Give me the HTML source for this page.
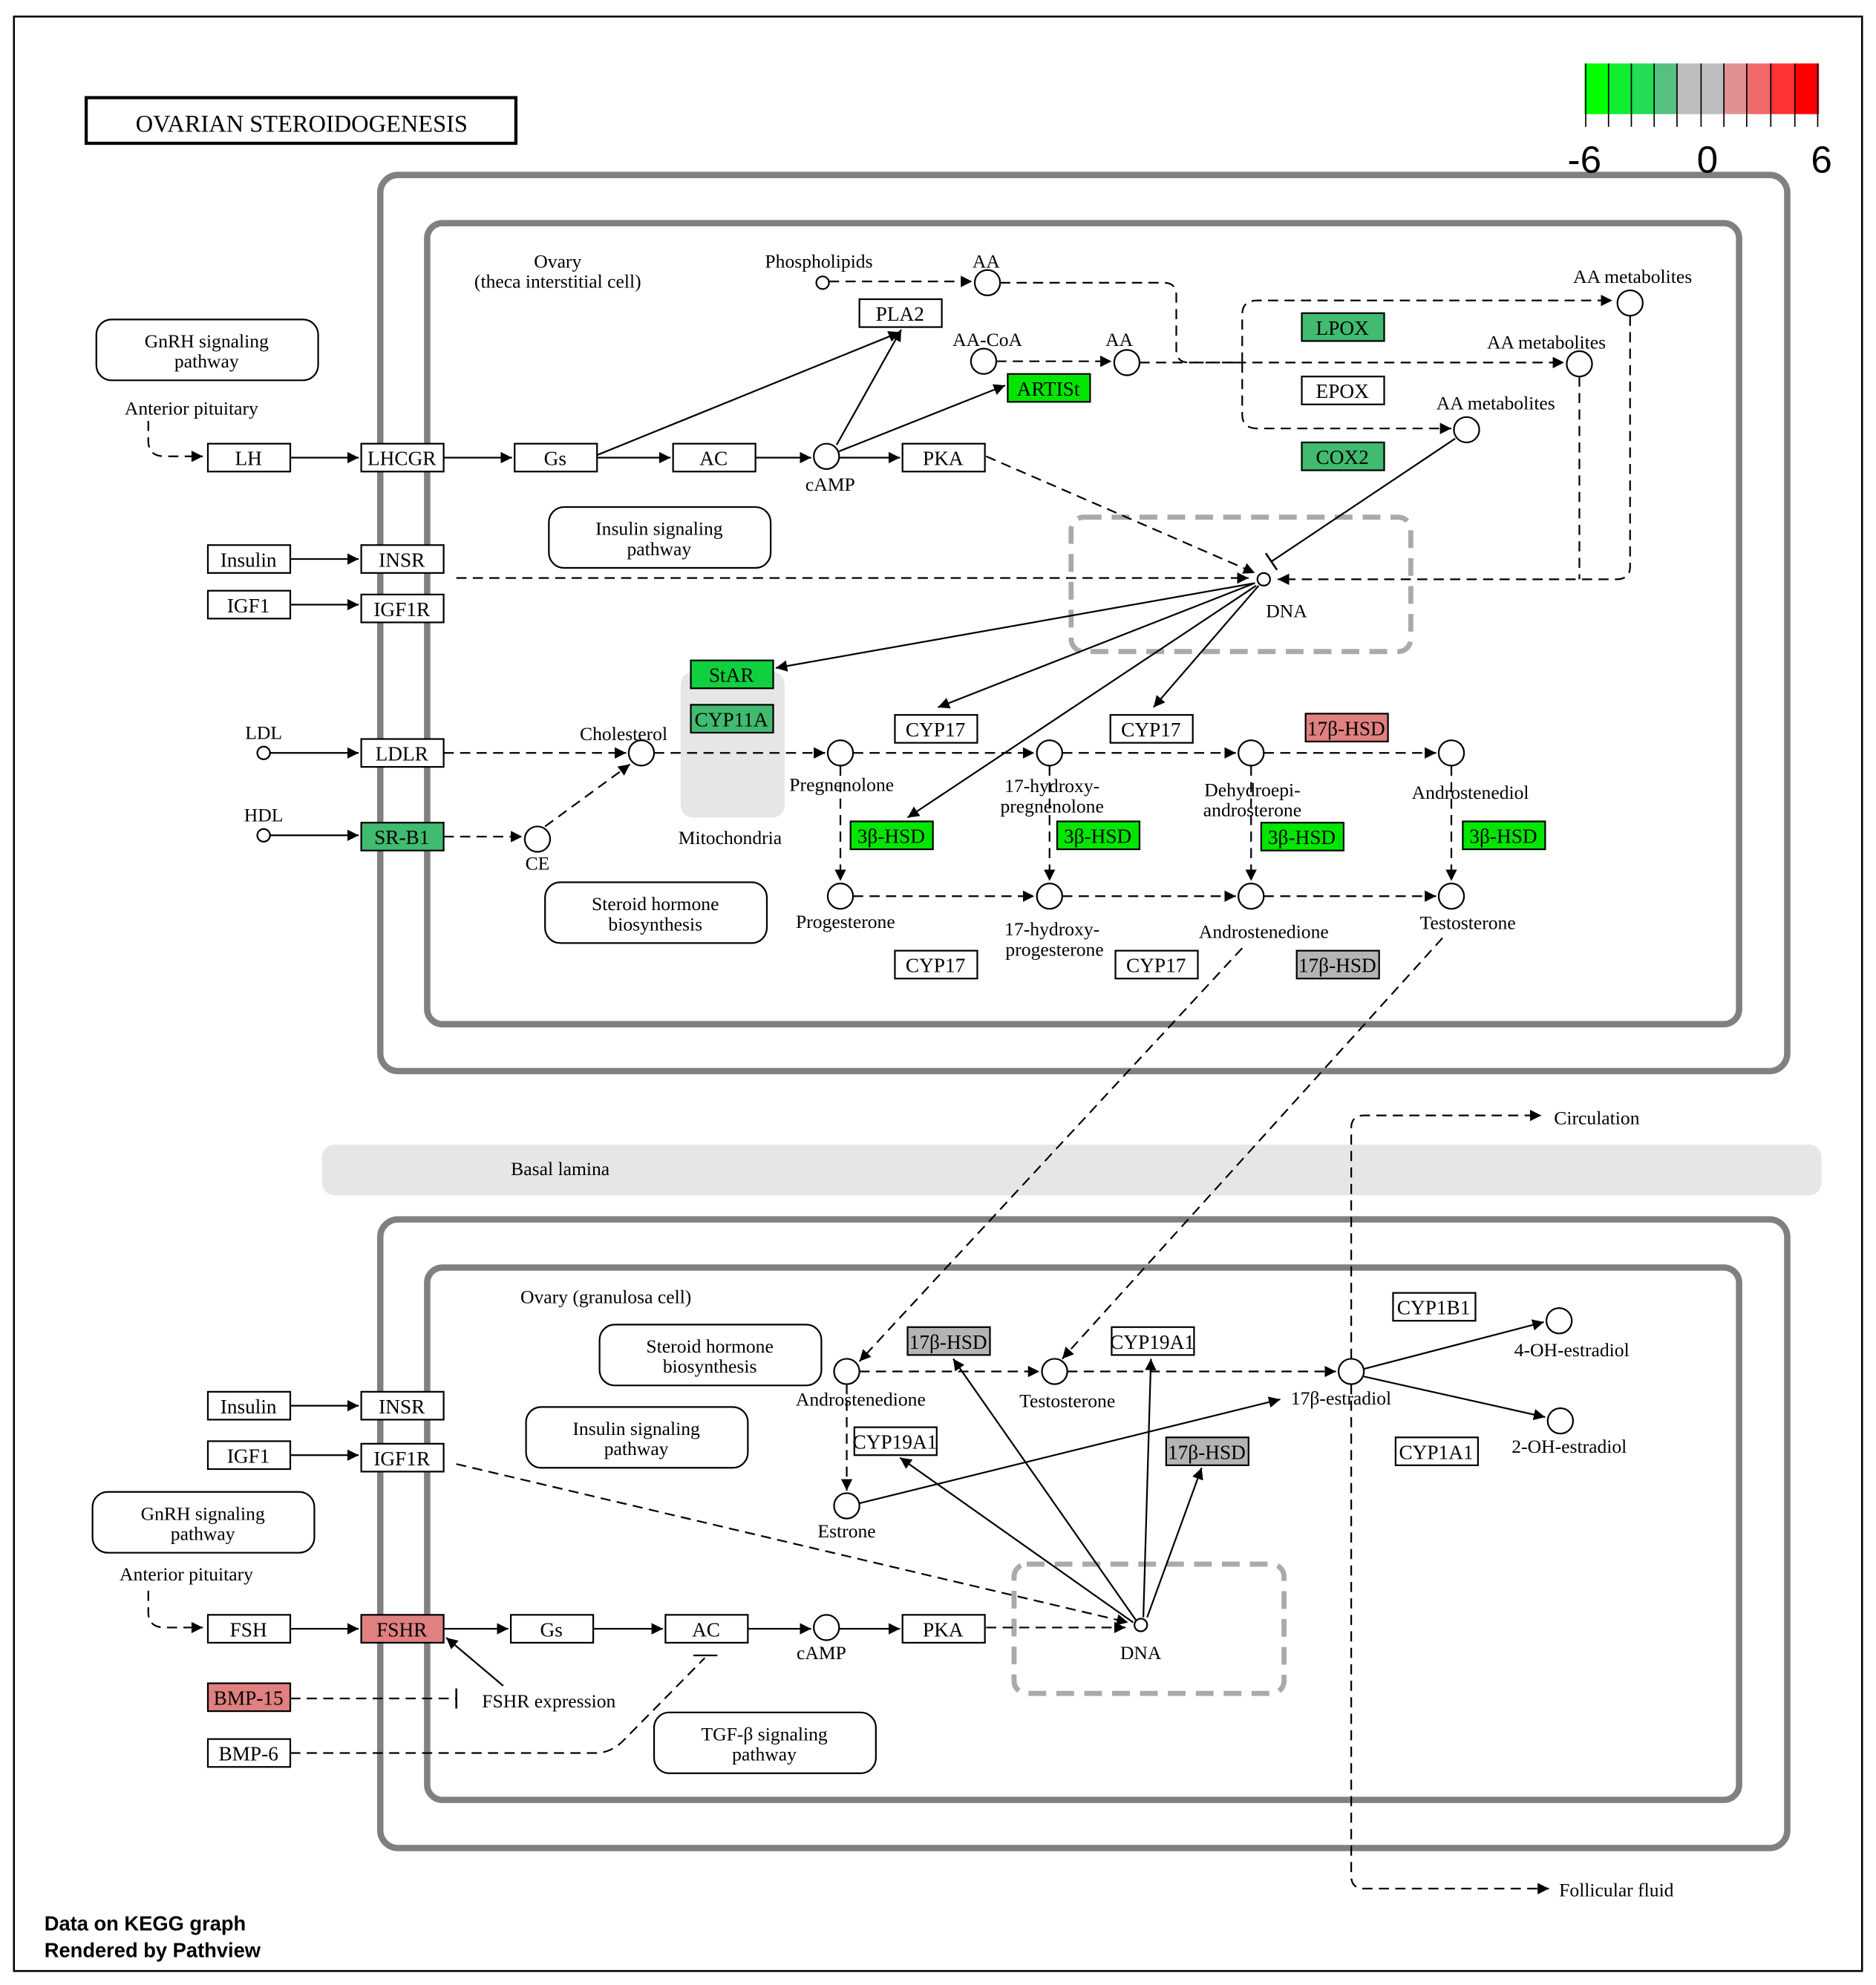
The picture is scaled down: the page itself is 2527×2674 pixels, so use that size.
<!DOCTYPE html>
<html><head><meta charset="utf-8"><style>
html,body{margin:0;padding:0;background:#fff}
svg{display:block}
text{font-family:"Liberation Serif",serif;font-size:15px;fill:#000}
.b{font-size:16px}
</style></head><body>
<svg width="2527" height="2674" viewBox="0 0 1480 1566" xmlns="http://www.w3.org/2000/svg">
<defs>
<marker id="a" viewBox="0 0 10 10" refX="10" refY="5" markerWidth="9" markerHeight="9" markerUnits="userSpaceOnUse" orient="auto"><path d="M0,0L10,5L0,10z" fill="#000"/></marker>
<marker id="t" viewBox="0 0 4 16" refX="2" refY="8" markerWidth="4" markerHeight="16" markerUnits="userSpaceOnUse" orient="auto"><path d="M2,0V16" stroke="#000" stroke-width="1.5"/></marker>
</defs>
<rect width="1480" height="1566" fill="#fff"/>
<rect x="11" y="13" width="1458" height="1542" fill="none" stroke="#000" stroke-width="1.5"/>
<rect x="68" y="77" width="339" height="36" fill="none" stroke="#000" stroke-width="2.5"/>
<text x="238" y="104" text-anchor="middle" style="font-size:19px">OVARIAN STEROIDOGENESIS</text>
<!-- legend -->
<g>
<rect x="1250" y="50" width="19" height="40" fill="#00ff00"/><rect x="1269" y="50" width="18" height="40" fill="#10ee30"/><rect x="1287" y="50" width="18" height="40" fill="#22dd55"/><rect x="1305" y="50" width="18" height="40" fill="#55c080"/><rect x="1323" y="50" width="19" height="40" fill="#bebebe"/><rect x="1342" y="50" width="18" height="40" fill="#bebebe"/><rect x="1360" y="50" width="18" height="40" fill="#e09090"/><rect x="1378" y="50" width="19" height="40" fill="#f06a6a"/><rect x="1397" y="50" width="19" height="40" fill="#ff3333"/><rect x="1416" y="50" width="19" height="40" fill="#ff0000"/>
<path d="M1251,50V100M1269,50V100M1287,50V100M1305,50V100M1323,50V100M1342,50V100M1360,50V100M1378,50V100M1397,50V100M1416,50V100M1434,50V100" stroke="#000" stroke-width="1"/>
</g>
<!-- compartments -->
<g fill="none" stroke="#808080" stroke-width="5">
<rect x="300" y="138" width="1110" height="707" rx="14"/>
<rect x="337" y="176" width="1035" height="632" rx="12"/>
<rect x="300" y="962" width="1110" height="496" rx="14"/>
<rect x="337" y="1000" width="1035" height="420" rx="12"/>
</g>
<text x="1250" y="136" text-anchor="middle" style="font-family:'Liberation Sans',sans-serif;font-size:30px">-6</text>
<text x="1347" y="136" text-anchor="middle" style="font-family:'Liberation Sans',sans-serif;font-size:30px">0</text>
<text x="1437" y="136" text-anchor="middle" style="font-family:'Liberation Sans',sans-serif;font-size:30px">6</text>
<rect x="254" y="903" width="1183" height="40" rx="10" fill="#e6e6e6"/>
<text x="442" y="927" text-anchor="middle">Basal lamina</text>
<rect x="537" y="530" width="82" height="115" rx="10" fill="#e6e6e6"/>
<g fill="none" stroke="#aaa" stroke-width="4" stroke-dasharray="14,8">
<rect x="845" y="408" width="268" height="106" rx="10"/>
<rect x="800" y="1234" width="213" height="102" rx="10"/>
</g>
<!-- edges solid -->
<g stroke="#000" stroke-width="1.3" fill="none" marker-end="url(#a)">
<path d="M229,361H283"/><path d="M350,361H404"/><path d="M471,361H529"/><path d="M596,361H640"/>
<path d="M471,359L710,262"/><path d="M660,351L711,260"/><path d="M662,356L793,304"/><path d="M662,361H710"/>
<path d="M229,441H283"/><path d="M229,477H283"/>
<path d="M213,594H283"/><path d="M213,659H283"/>
<path d="M990,460L612,527"/><path d="M990,460L740,558"/><path d="M991,462L716,645"/><path d="M993,462L910,558"/>
<path d="M229,1109H283"/><path d="M229,1148H283"/><path d="M229,1285H283"/><path d="M350,1285H401"/><path d="M468,1285H523"/><path d="M590,1285H640"/><path d="M662,1285H710"/>
<path d="M397,1330L352,1292"/>
<path d="M896,1278L752,1072"/><path d="M894,1280L710,1150"/><path d="M902,1276L908,1072"/><path d="M905,1276L948,1158"/>
<path d="M678,1186L1010,1104"/><path d="M1076,1080L1218,1043"/><path d="M1076,1086L1219,1118"/>
</g>
<path d="M1148,346L1003,443" stroke="#000" stroke-width="1.3" fill="none" marker-end="url(#t)"/>
<!-- edges dashed -->
<g stroke="#000" stroke-width="1.3" fill="none" stroke-dasharray="8,5" marker-end="url(#a)">
<path d="M117,332V348Q117,360 130,360H160"/>
<path d="M117,1255V1272Q117,1284 130,1284H160"/>
<path d="M778,360L990,452"/>
<path d="M654,222H767"/><path d="M786,285H877"/>
<path d="M975,286H1234"/>
<path d="M980,286V248Q980,237 992,237H1272"/>
<path d="M980,286V327Q980,338 992,338H1145"/>
<path d="M1286,249V447Q1286,457 1275,457H1008"/>
<path d="M360,456H985"/>
<path d="M350,594H494"/><path d="M350,660H412"/><path d="M430,652L497,603"/>
<path d="M516,594H651"/><path d="M673,594H816"/><path d="M838,594H975"/><path d="M997,594H1133"/>
<path d="M663,604V695"/><path d="M828,604V695"/><path d="M987,604V695"/><path d="M1145,604V695"/>
<path d="M673,707H816"/><path d="M838,707H975"/><path d="M997,707H1133"/>
<path d="M980,748L678,1074"/><path d="M1138,740L838,1072"/>
<path d="M778,1284H888"/><path d="M360,1155L890,1280"/>
<path d="M678,1082H820"/><path d="M842,1082H1054"/><path d="M668,1092V1176"/>
<path d="M1066,1072V890Q1066,880 1076,880H1216"/>
<path d="M1066,1092V1480Q1066,1490 1076,1490H1222"/>
</g>
<g stroke="#000" stroke-width="1.3" fill="none" stroke-dasharray="8,5">
<path d="M789,223H918Q928,223 928,233V276Q928,286 938,286H975"/>
<path d="M899,286H975"/>
<path d="M1246,297V457"/>
<path d="M229,1340H360" marker-end="url(#t)"/>
<path d="M229,1383H470Q482,1383 492,1373L556,1308"/>
</g>
<path d="M547,1306H566" stroke="#000" stroke-width="1.3"/>
<!-- circles -->
<g fill="#fff" stroke="#000" stroke-width="1.3">
<circle cx="649" cy="223" r="5"/><circle cx="779" cy="223" r="10"/><circle cx="776" cy="285" r="10"/><circle cx="889" cy="286" r="10"/>
<circle cx="652" cy="360" r="10"/><circle cx="1286" cy="239" r="10"/><circle cx="1246" cy="287" r="10"/><circle cx="1157" cy="339" r="10"/>
<circle cx="997" cy="457" r="5"/><circle cx="208" cy="594" r="5"/><circle cx="208" cy="659" r="5"/>
<circle cx="506" cy="594" r="10"/><circle cx="424" cy="662" r="10"/><circle cx="663" cy="594" r="10"/><circle cx="828" cy="594" r="10"/><circle cx="987" cy="594" r="10"/><circle cx="1145" cy="594" r="10"/>
<circle cx="663" cy="707" r="10"/><circle cx="828" cy="707" r="10"/><circle cx="987" cy="707" r="10"/><circle cx="1145" cy="707" r="10"/>
<circle cx="668" cy="1082" r="10"/><circle cx="832" cy="1082" r="10"/><circle cx="1066" cy="1082" r="10"/><circle cx="1230" cy="1042" r="10"/><circle cx="1231" cy="1121" r="10"/><circle cx="668" cy="1188" r="10"/>
<circle cx="652" cy="1284" r="10"/><circle cx="900" cy="1282" r="5"/>
</g>
<!-- pathway rounded boxes -->
<g fill="#fff" stroke="#000" stroke-width="1.3">
<rect x="76" y="252" width="175" height="48" rx="12"/><rect x="433" y="400" width="175" height="48" rx="12"/><rect x="430" y="696" width="175" height="48" rx="12"/>
<rect x="473" y="1045" width="175" height="48" rx="12"/><rect x="415" y="1110" width="175" height="48" rx="12"/><rect x="73" y="1177" width="175" height="48" rx="12"/><rect x="516" y="1351" width="175" height="48" rx="12"/>
</g>
<g text-anchor="middle">
<text x="163" y="274">GnRH signaling</text><text x="163" y="290">pathway</text>
<text x="520" y="422">Insulin signaling</text><text x="520" y="438">pathway</text>
<text x="517" y="718">Steroid hormone</text><text x="517" y="734">biosynthesis</text>
<text x="560" y="1067">Steroid hormone</text><text x="560" y="1083">biosynthesis</text>
<text x="502" y="1132">Insulin signaling</text><text x="502" y="1148">pathway</text>
<text x="160" y="1199">GnRH signaling</text><text x="160" y="1215">pathway</text>
<text x="603" y="1373">TGF-β signaling</text><text x="603" y="1389">pathway</text>
</g>
<!-- gene boxes -->
<g stroke="#000" stroke-width="1.3">
<rect x="164" y="350" width="65" height="22" fill="#fff"/><rect x="285" y="350" width="65" height="22" fill="#fff"/><rect x="406" y="350" width="65" height="22" fill="#fff"/><rect x="531" y="350" width="65" height="22" fill="#fff"/><rect x="712" y="350" width="65" height="22" fill="#fff"/>
<rect x="678" y="236" width="65" height="22" fill="#fff"/><rect x="795" y="295" width="65" height="22" fill="#00e600"/>
<rect x="1027" y="247" width="65" height="22" fill="#40bb70"/><rect x="1027" y="297" width="65" height="22" fill="#fff"/><rect x="1027" y="349" width="65" height="22" fill="#40bb70"/>
<rect x="164" y="430" width="65" height="22" fill="#fff"/><rect x="285" y="430" width="65" height="22" fill="#fff"/><rect x="164" y="466" width="65" height="22" fill="#fff"/><rect x="285" y="469" width="65" height="22" fill="#fff"/>
<rect x="545" y="521" width="65" height="22" fill="#10d040"/><rect x="545" y="556" width="65" height="22" fill="#40bb70"/>
<rect x="285" y="583" width="65" height="22" fill="#fff"/><rect x="285" y="649" width="65" height="22" fill="#40bb70"/>
<rect x="706" y="564" width="65" height="22" fill="#fff"/><rect x="876" y="564" width="65" height="22" fill="#fff"/><rect x="1030" y="563" width="65" height="22" fill="#e08080"/>
<rect x="671" y="648" width="65" height="22" fill="#00e600"/><rect x="834" y="648" width="65" height="22" fill="#00e600"/><rect x="995" y="649" width="65" height="22" fill="#00e600"/><rect x="1154" y="648" width="65" height="22" fill="#00e600"/>
<rect x="706" y="750" width="65" height="22" fill="#fff"/><rect x="880" y="750" width="65" height="22" fill="#fff"/><rect x="1023" y="750" width="65" height="22" fill="#b4b4b4"/>
<rect x="164" y="1098" width="65" height="22" fill="#fff"/><rect x="285" y="1098" width="65" height="22" fill="#fff"/><rect x="164" y="1137" width="65" height="22" fill="#fff"/><rect x="285" y="1139" width="65" height="22" fill="#fff"/>
<rect x="164" y="1274" width="65" height="22" fill="#fff"/><rect x="285" y="1274" width="65" height="22" fill="#e08080"/><rect x="403" y="1274" width="65" height="22" fill="#fff"/><rect x="525" y="1274" width="65" height="22" fill="#fff"/><rect x="712" y="1274" width="65" height="22" fill="#fff"/>
<rect x="164" y="1328" width="65" height="22" fill="#e08080"/><rect x="164" y="1372" width="65" height="22" fill="#fff"/>
<rect x="716" y="1047" width="65" height="22" fill="#b4b4b4"/><rect x="877" y="1047" width="65" height="22" fill="#fff"/><rect x="1099" y="1020" width="65" height="22" fill="#fff"/>
<rect x="674" y="1126" width="65" height="22" fill="#fff"/><rect x="920" y="1134" width="65" height="22" fill="#b4b4b4"/><rect x="1101" y="1134" width="65" height="22" fill="#fff"/>
</g>
<g text-anchor="middle" class="b">
<text class="b" x="196" y="367">LH</text><text class="b" x="317" y="367">LHCGR</text><text class="b" x="438" y="367">Gs</text><text class="b" x="563" y="367">AC</text><text class="b" x="744" y="367">PKA</text>
<text class="b" x="710" y="253">PLA2</text><text class="b" x="827" y="312">ARTISt</text>
<text class="b" x="1059" y="264">LPOX</text><text class="b" x="1059" y="314">EPOX</text><text class="b" x="1059" y="366">COX2</text>
<text class="b" x="196" y="447">Insulin</text><text class="b" x="317" y="447">INSR</text><text class="b" x="196" y="483">IGF1</text><text class="b" x="317" y="486">IGF1R</text>
<text class="b" x="577" y="538">StAR</text><text class="b" x="577" y="573">CYP11A</text>
<text class="b" x="317" y="600">LDLR</text><text class="b" x="317" y="666">SR-B1</text>
<text class="b" x="738" y="581">CYP17</text><text class="b" x="908" y="581">CYP17</text><text class="b" x="1062" y="580">17β-HSD</text>
<text class="b" x="703" y="665">3β-HSD</text><text class="b" x="866" y="665">3β-HSD</text><text class="b" x="1027" y="666">3β-HSD</text><text class="b" x="1186" y="665">3β-HSD</text>
<text class="b" x="738" y="767">CYP17</text><text class="b" x="912" y="767">CYP17</text><text class="b" x="1055" y="767">17β-HSD</text>
<text class="b" x="196" y="1115">Insulin</text><text class="b" x="317" y="1115">INSR</text><text class="b" x="196" y="1154">IGF1</text><text class="b" x="317" y="1156">IGF1R</text>
<text class="b" x="196" y="1291">FSH</text><text class="b" x="317" y="1291">FSHR</text><text class="b" x="435" y="1291">Gs</text><text class="b" x="557" y="1291">AC</text><text class="b" x="744" y="1291">PKA</text>
<text class="b" x="196" y="1345">BMP-15</text><text class="b" x="196" y="1389">BMP-6</text>
<text class="b" x="748" y="1064">17β-HSD</text><text class="b" x="909" y="1064">CYP19A1</text><text class="b" x="1131" y="1037">CYP1B1</text>
<text class="b" x="706" y="1143">CYP19A1</text><text class="b" x="952" y="1151">17β-HSD</text><text class="b" x="1133" y="1151">CYP1A1</text>
</g>
<!-- labels -->
<g text-anchor="middle">
<text x="440" y="211">Ovary</text><text x="440" y="227">(theca interstitial cell)</text>
<text x="646" y="211">Phospholipids</text><text x="778" y="211">AA</text><text x="779" y="273">AA-CoA</text><text x="883" y="273">AA</text>
<text x="655" y="387">cAMP</text>
<text x="1288" y="223">AA metabolites</text><text x="1220" y="275">AA metabolites</text><text x="1180" y="323">AA metabolites</text>
<text x="1015" y="487">DNA</text>
<text x="151" y="327">Anterior pituitary</text>
<text x="208" y="583">LDL</text><text x="208" y="648">HDL</text>
<text x="492" y="584">Cholesterol</text><text x="424" y="686">CE</text>
<text x="576" y="666">Mitochondria</text>
<text x="664" y="624">Pregnenolone</text>
<text x="830" y="625">17-hydroxy-</text><text x="830" y="641">pregnenolone</text>
<text x="988" y="628">Dehydroepi-</text><text x="988" y="644">androsterone</text>
<text x="1160" y="630">Androstenediol</text>
<text x="667" y="732">Progesterone</text>
<text x="830" y="738">17-hydroxy-</text><text x="832" y="754">progesterone</text>
<text x="997" y="740">Androstenedione</text><text x="1158" y="733">Testosterone</text>
<text x="478" y="1028">Ovary (granulosa cell)</text>
<text x="679" y="1109">Androstenedione</text><text x="842" y="1110">Testosterone</text><text x="1058" y="1108">17β-estradiol</text>
<text x="1240" y="1070">4-OH-estradiol</text><text x="1238" y="1146">2-OH-estradiol</text>
<text x="668" y="1213">Estrone</text>
<text x="147" y="1247">Anterior pituitary</text>
<text x="648" y="1309">cAMP</text><text x="900" y="1309">DNA</text>
<text x="433" y="1347">FSHR expression</text>
</g>
<text x="1226" y="887">Circulation</text>
<text x="1230" y="1496">Follicular fluid</text>
<text x="35" y="1523" style="font-family:'Liberation Sans',sans-serif;font-size:16px;font-weight:bold">Data on KEGG graph</text>
<text x="35" y="1544" style="font-family:'Liberation Sans',sans-serif;font-size:16px;font-weight:bold">Rendered by Pathview</text>
</svg>
</body></html>
